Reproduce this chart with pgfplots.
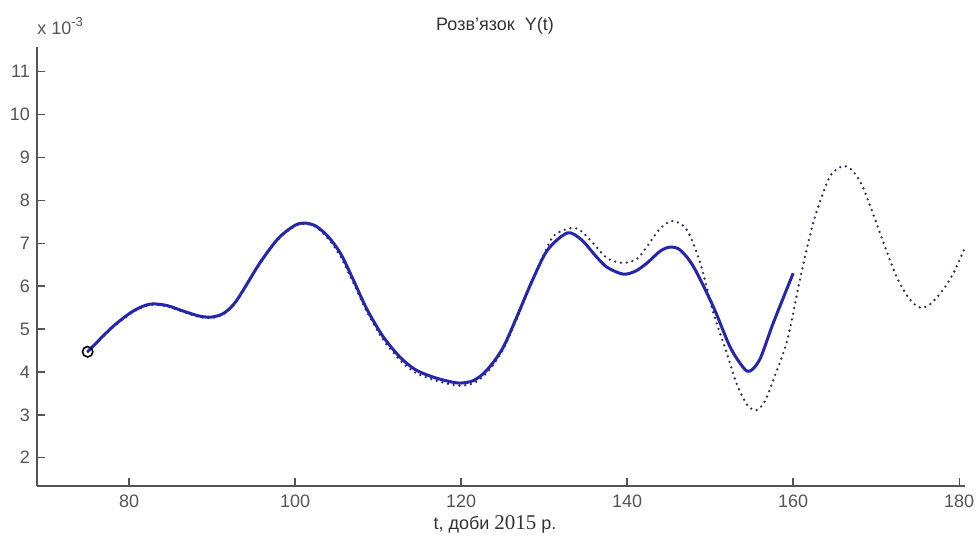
\documentclass[border=0pt]{standalone}
\usepackage{fontspec}
\setmainfont{Liberation Sans}
\newfontfamily\seriffont{Liberation Serif}
\usepackage{pgfplots}
\pgfplotsset{compat=1.18}
\definecolor{solidblue}{RGB}{38,38,172}
\definecolor{dotblue}{RGB}{45,45,95}
\definecolor{axgray}{RGB}{85,85,85}
\begin{document}
\begin{tikzpicture}
\useasboundingbox (0,0) rectangle (490pt,271pt);
\begin{axis}[
  at={(18.5pt,28pt)}, anchor=south west,
  scale only axis,
  width=464pt, height=219.6pt,
  xmin=68.9, xmax=180.7,
  ymin=1.34, ymax=11.58,
  axis x line*=bottom, axis y line*=left,
  axis line style={axgray, line width=0.8pt},
  xtick={80,100,...,180},
  ytick={2,3,...,11},
  tick align=inside,
  major tick length=4pt,
  tick style={axgray, line width=0.7pt},
  /pgf/number format/assume math mode=true,
  ticklabel style={font=\fontsize{9}{10}\selectfont, text=axgray},
  xticklabel style={yshift=-1pt},
  clip=false,
]
\addplot[dotblue, line width=1.3pt, dash pattern=on 0pt off 2.9pt, line cap=round, smooth] coordinates {
(75,4.47) (78,5.03) (80.5,5.40) (82.5,5.56) (84.5,5.53) (86.5,5.40) (88.5,5.28) (90,5.26) (91.5,5.36) (93,5.66)
(95.75,6.52) (98,7.10) (100,7.40) (101.2,7.45) (102.5,7.38) (104,7.10) (105.5,6.68) (107,6.08) (108.6,5.42)
(110.5,4.78) (112.6,4.28) (114.5,3.98) (116.6,3.82) (118.5,3.72) (119.9,3.68) (121.5,3.74)
(123.1,3.98) (125,4.50) (126.7,5.24) (128.5,6.10) (130.4,6.92) (131.3,7.20) (133.1,7.35)
(134.3,7.31) (135.9,7.00) (137.6,6.65) (139.5,6.54) (141.2,6.64) (142.6,6.98) (144,7.35)
(145.5,7.52) (147.2,7.31) (148.8,6.54) (150.4,5.37) (152.0,4.44) (153.2,3.72) (154.5,3.22)
(155.6,3.11) (156.6,3.32) (157.6,3.81) (159.3,4.75) (160.8,6.14) (162.4,7.47) (164.2,8.47) (165.2,8.72) (166.2,8.80)
(167.2,8.68) (168.3,8.35) (169.6,7.70) (171,6.95) (172.5,6.20) (174,5.70) (175.3,5.50) (176.5,5.58)
(178,5.90) (179.3,6.30) (180.6,6.86)
};
\addplot[solidblue, line width=1.5pt, smooth] coordinates {
(75,4.47) (78,5.05) (80.5,5.42) (82.5,5.58) (84.5,5.55) (86.5,5.42) (88.5,5.30) (90,5.28) (91.5,5.38) (93,5.68)
(95.75,6.54) (98,7.12) (100,7.42) (101.2,7.47) (102.5,7.40) (104,7.15) (105.5,6.75) (107,6.15) (108.6,5.48)
(110.5,4.85) (112.6,4.35) (114.5,4.05) (116.6,3.88) (118.5,3.78) (119.9,3.74) (121.5,3.80)
(123.1,4.04) (125,4.55) (126.7,5.28) (128.5,6.10) (130.4,6.84) (132.8,7.24) (134.5,7.08)
(136,6.75) (137.5,6.45) (139.5,6.28) (141,6.35) (142.4,6.54) (144,6.82) (145.2,6.91)
(146.4,6.84) (148.0,6.45) (150.4,5.51) (152.4,4.58) (154,4.10) (154.8,4.02) (156,4.30)
(157.6,5.14) (160,6.30)
};
\addplot[black, line width=0.8pt, only marks, mark=o, mark size=2.6pt] coordinates {(75,4.47)};
\node[anchor=base west, font=\fontsize{9}{10}\selectfont, text=axgray, inner sep=0pt]
  at ([yshift=6pt]rel axis cs:0,1) {x 10\raisebox{0.45em}{\fontsize{6.5}{7}\selectfont -3}};
\node[anchor=base, font=\fontsize{9}{10}\selectfont, text=black!80, inner sep=0pt]
  at ([yshift=8.3pt,xshift=-3pt]rel axis cs:0.5,1) {Розв'язок\ \ Y(t)};
\node[anchor=base, font=\fontsize{9}{10}\selectfont, text=black!80, inner sep=0pt]
  at ([yshift=-21.5pt,xshift=-3pt]rel axis cs:0.5,0) {t, доби {\seriffont\fontsize{10.5}{11}\selectfont 2015} р.};
\end{axis}
\end{tikzpicture}
\end{document}
